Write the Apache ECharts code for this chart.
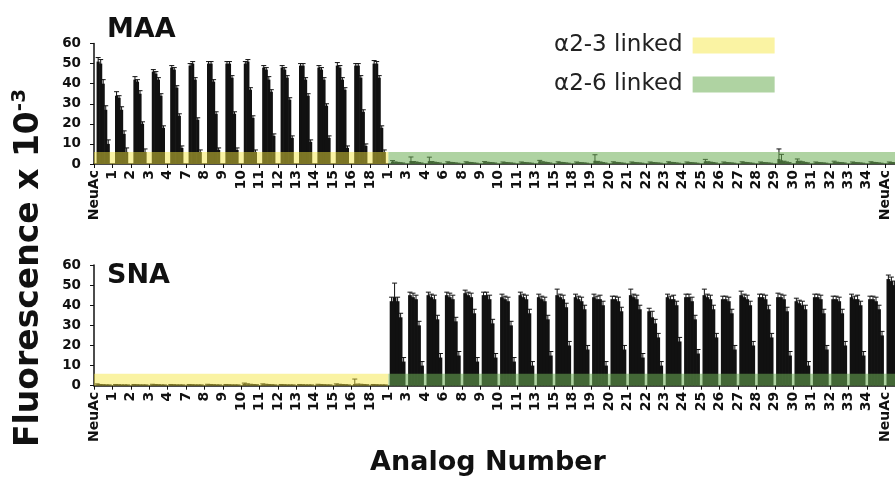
<!DOCTYPE html>
<html><head><meta charset="utf-8">
<script src="https://cdn.jsdelivr.net/npm/echarts@6/dist/echarts.min.js"></script>
<style>html,body{margin:0;padding:0;background:#fff}#c{width:895px;height:481px}</style>
</head><body><div id="c"></div>
<script>
// ---- categories ----
const leftLabels = ['NeuAc','1','2','3','4','7','8','9','10','11','12','13','14','15','16','18'];
const rightLabels = ['1','3','4','6','8','9','10','11','13','15','18','19','20','21','22','23','24','25','26','27','28','29','30','31','32','33','34','NeuAc'];
const yMin = 0, yMax = 60, yStep = 10;
const bandTop = 6;

// ---- MAA values (5 concentrations per analog) ----
const maa1 = [51,34,42,46,48,49,50,50,50,48,48,49,48,49,49,50, 1.2,1.5,1.4,0.8,0.8,0.9,0.7,0.7,1.3,0.8,0.7,1.6,0.8,0.7,0.7,0.8,0.7,1.3,0.7,0.8,0.7,2.5,1.5,0.7,0.9,0.7,0.8,0.7];
const maa2 = [50,33,41,45,47,50,50,50,51,47,47,49,47,48,49,50, 0.8,1.0,1.0,0.6,0.6,0.7,0.5,0.5,0.9,0.6,0.5,1.1,0.6,0.5,0.5,0.6,0.5,0.9,0.5,0.6,0.5,1.8,1.2,0.5,0.7,0.5,0.6,0.5];
const maa3 = [40,27,35,42,38,42,41,43,37,42,43,42,42,42,43,43, 0.6,0.8,0.7,0.5,0.5,0.5,0.4,0.4,0.7,0.5,0.4,0.8,0.5,0.4,0.4,0.5,0.4,0.7,0.4,0.5,0.4,1.2,0.9,0.4,0.5,0.4,0.5,0.4];
const maa4 = [27,15,20,34,24,22,25,25,23,36,32,34,29,37,26,18, 0.4,0.5,0.5,0.3,0.3,0.4,0.3,0.3,0.5,0.3,0.3,0.5,0.3,0.3,0.3,0.3,0.3,0.5,0.3,0.3,0.3,0.8,0.6,0.3,0.4,0.3,0.3,0.3];
const maa5 = [10,6,6,18,8,6,7,7,6,14,13,11,13,8,9,6, 0.3,0.3,0.3,0.2,0.2,0.3,0.2,0.2,0.3,0.2,0.2,0.3,0.2,0.2,0.2,0.2,0.2,0.3,0.2,0.2,0.2,0.5,0.4,0.2,0.3,0.2,0.2,0.2];
const maaE1 = [2,2,1.5,1,1,1,1,1,1,1,1,1,1,1.5,1,1.5, 0.5,2,2,0.3,0.3,0.3,0.3,0.3,0.5,0.3,0.3,3,0.3,0.3,0.3,0.3,0.3,1,0.3,0.3,0.3,5,1,0.3,0.5,0.3,0.3,0.3];
const maaE2 = [2,1,1,1,1,1,1,1,1,1,1,1,1,1,1,1, 0.2,0.2,0.2,0.2,0.2,0.2,0.2,0.2,0.2,0.2,0.2,0.2,0.2,0.2,0.2,0.2,0.2,0.2,0.2,0.2,0.2,3,0.2,0.2,0.2,0.2,0.2,0.2];
const maaE3 = [2,1.5,1.5,1,1,1,1,1,1,1.5,1,1,1,1,1,1, 0.2,0.2,0.2,0.2,0.2,0.2,0.2,0.2,0.2,0.2,0.2,0.2,0.2,0.2,0.2,0.2,0.2,0.2,0.2,0.2,0.2,0.2,0.2,0.2,0.2,0.2,0.2,0.2];
const maaE4 = [2,1.5,1,1,1,1,1,1,1,1,1,1,1,1,1,1, 0.2,0.2,0.2,0.2,0.2,0.2,0.2,0.2,0.2,0.2,0.2,0.2,0.2,0.2,0.2,0.2,0.2,0.2,0.2,0.2,0.2,0.2,0.2,0.2,0.2,0.2,0.2,0.2];
const maaE5 = [2,2,1.5,1,1,1,1,1,1,1,1,1,1,1,1,1, 0.2,0.2,0.2,0.2,0.2,0.2,0.2,0.2,0.2,0.2,0.2,0.2,0.2,0.2,0.2,0.2,0.2,0.2,0.2,0.2,0.2,0.2,0.2,0.2,0.2,0.2,0.2,0.2];

// ---- SNA values ----
const sna1 = [0.6,0.4,0.4,0.5,0.4,0.4,0.5,0.4,0.9,0.6,0.4,0.4,0.5,0.6,0.8,0.4, 42,45,45,45,46,45,44,45,44,45,44,44,43,45,37,44,44,45,43,45,44,44,42,44,43,44,43,53];
const sna2 = [0.4,0.3,0.3,0.4,0.3,0.3,0.4,0.3,0.7,0.5,0.3,0.3,0.4,0.5,0.6,0.3, 44,44,44,44,45,45,43,44,43,44,43,43,43,44,34,43,44,44,43,44,44,44,41,44,43,43,43,52];
const sna3 = [0.3,0.2,0.2,0.3,0.2,0.2,0.3,0.2,0.5,0.4,0.2,0.2,0.3,0.4,0.5,0.2, 42,43,43,43,44,43,42,43,42,43,42,43,42,43,31,43,42,43,42,43,43,43,40,43,42,43,42,50];
const sna4 = [0.2,0.2,0.2,0.2,0.2,0.2,0.2,0.2,0.4,0.3,0.2,0.2,0.2,0.3,0.4,0.2, 34,30,33,32,36,31,30,36,33,39,38,40,37,38,24,40,33,38,36,40,38,37,38,36,36,40,38,44];
const sna5 = [0.2,0.2,0.2,0.2,0.2,0.2,0.2,0.2,0.3,0.2,0.2,0.2,0.2,0.2,0.3,0.2, 12,10,14,15,12,14,12,10,15,20,18,10,18,14,10,22,16,24,18,20,24,15,10,18,20,15,25,30];
const snaE1 = [0.3,0.2,0.2,0.2,0.2,0.2,0.2,0.2,0.4,0.3,0.2,0.2,0.2,0.3,2.5,0.2, 2,1.5,1.5,1.5,1.5,1.5,1.5,1.5,1.5,3,1.5,1.5,1.5,3,1.5,1.5,1.5,3,1.5,2,1.5,2,1.5,1.5,1.5,1.5,1.5,2];
const snaE2 = [0.2,0.2,0.2,0.2,0.2,0.2,0.2,0.2,0.2,0.2,0.2,0.2,0.2,0.2,0.2,0.2, 7,2,1.5,2,1.5,1.5,1.5,1.5,1.5,1.5,1.5,1.5,1.5,1.5,3,1.5,1.5,1.5,1.5,1.5,1.5,1.5,1.5,1.5,1.5,1.5,1.5,2];
const snaE3 = [0.2,0.2,0.2,0.2,0.2,0.2,0.2,0.2,0.2,0.2,0.2,0.2,0.2,0.2,0.2,0.2, 2,2,2,2,2,2,2,2,2,2,2,2,2,2,2,2,2,2,2,2,2,2,2,2,2,2,2,2];
const snaE4 = [0.2,0.2,0.2,0.2,0.2,0.2,0.2,0.2,0.2,0.2,0.2,0.2,0.2,0.2,0.2,0.2, 2,2,2,2,2,2,2,2,2,2,2,2,2,2,2,2,2,2,2,2,2,2,2,2,2,2,2,2];
const snaE5 = [0.2,0.2,0.2,0.2,0.2,0.2,0.2,0.2,0.2,0.2,0.2,0.2,0.2,0.2,0.2,0.2, 2,2,2,2,2,2,2,2,2,2,2,2,2,2,2,2,2,2,2,2,2,2,2,2,2,2,2,2];

// ---- build ----
const labels = leftLabels.concat(rightLabels);
const N = labels.length;
const idxCats = labels.map((_, i) => 'c' + i);
const tickCats = labels.concat(['']);
const GAPS = [0.28, 0.14];   // category gap fraction per panel
const BGAP = -0.2;           // bar gap fraction (slight overlap, no seams)
const maaSeries = [maa1, maa2, maa3, maa4, maa5];
const maaErr = [maaE1, maaE2, maaE3, maaE4, maaE5];
const snaSeries = [sna1, sna2, sna3, sna4, sna5];
const snaErr = [snaE1, snaE2, snaE3, snaE4, snaE5];
const NS = maaSeries.length;
const FONT = "'DejaVu Sans', sans-serif";
const YELLOW = 'rgba(245,230,60,0.47)';
const GREEN = 'rgba(110,175,85,0.55)';

function makeErrRender(gap) {
  return function (params, api) {
    const cat = api.value(0), s = api.value(1), v = api.value(2), e = api.value(3);
    const bw = api.size([1, 0])[0];
    const total = bw * (1 - gap);
    const w = total / (NS + (NS - 1) * BGAP);
    const c = api.coord([cat, v]);
    const x = c[0] - total / 2 + s * w * (1 + BGAP) + w / 2;
    const yt = api.coord([cat, v + e])[1];
    const yb = api.coord([cat, Math.max(0, v - e)])[1];
    return { type: 'group', children: [
      { type: 'line', shape: { x1: x, y1: yt, x2: x, y2: yb }, style: { stroke: '#111', lineWidth: 1 } },
      { type: 'line', shape: { x1: x - 2.5, y1: yt, x2: x + 2.5, y2: yt }, style: { stroke: '#111', lineWidth: 1 } }
    ]};
  };
}
function bandRender(params, api) {
  const s = api.value(0), e = api.value(1), top = api.value(2);
  const bw = api.size([1, 0])[0];
  const p0 = api.coord([s, top]), p1 = api.coord([e, 0]);
  const x0 = p0[0] - bw / 2, x1 = p1[0] + bw / 2;
  return { type: 'rect', shape: { x: x0, y: p0[1], width: x1 - x0, height: p1[1] - p0[1] }, style: { fill: api.visual('color') } };
}

const grids = [
  { left: 94, top: 43.5, width: N * 18.4, height: 120.5 },
  { left: 94, top: 265, width: N * 18.4, height: 120.7 }
];
const xAxes = [], yAxes = [], series = [];
[0, 1].forEach(g => {
  const gap = GAPS[g];
  xAxes.push({ gridIndex: g, type: 'category', data: idxCats, position: 'bottom',
    axisLine: { show: true, lineStyle: { color: '#111', width: 1.5 } },
    axisTick: { show: false }, axisLabel: { show: false }, splitLine: { show: false } });
  xAxes.push({ gridIndex: g, type: 'category', data: tickCats, boundaryGap: false, position: 'bottom',
    axisLine: { show: false }, axisTick: { show: true, length: 4, interval: 0, lineStyle: { color: '#111' } },
    axisLabel: { interval: 0, rotate: 90, margin: 6, color: '#111', fontFamily: FONT, fontWeight: 'bold', fontSize: 14, hideOverlap: false },
    splitLine: { show: false } });
  yAxes.push({ gridIndex: g, type: 'value', min: yMin, max: yMax, interval: yStep,
    axisLine: { show: true, lineStyle: { color: '#111', width: 1.5 } },
    axisTick: { show: true, length: 4, lineStyle: { color: '#111' } },
    axisLabel: { color: '#111', fontFamily: FONT, fontWeight: 'bold', fontSize: 13.5, margin: 13 },
    splitLine: { show: false } });
  const vals = g === 0 ? maaSeries : snaSeries;
  const errs = g === 0 ? maaErr : snaErr;
  vals.forEach((arr, s) => {
    series.push({ type: 'bar', xAxisIndex: g * 2, yAxisIndex: g, data: arr,
      barCategoryGap: (gap * 100) + '%', barGap: (BGAP * 100) + '%',
      itemStyle: { color: '#111' },
      silent: true, z: 2 });
  });
  const errData = [];
  vals.forEach((arr, s) => arr.forEach((v, i) => errData.push([i, s, v, errs[s][i]])));
  series.push({ type: 'custom', xAxisIndex: g * 2, yAxisIndex: g, data: errData,
    encode: { x: 0, y: 2 }, renderItem: makeErrRender(gap), silent: true, z: 3 });
  series.push({ type: 'custom', name: 'α2-3 linked', xAxisIndex: g * 2, yAxisIndex: g,
    data: [[0, leftLabels.length - 1, bandTop]], encode: { x: [0, 1], y: 2 },
    itemStyle: { color: YELLOW }, renderItem: bandRender, silent: true, z: 5 });
  series.push({ type: 'custom', name: 'α2-6 linked', xAxisIndex: g * 2, yAxisIndex: g,
    data: [[leftLabels.length, N - 1, bandTop]], encode: { x: [0, 1], y: 2 },
    itemStyle: { color: GREEN }, renderItem: bandRender, silent: true, z: 5 });
});

const chart = echarts.init(document.getElementById('c'), null, { renderer: 'canvas' });
chart.setOption({
  animation: false,
  backgroundColor: '#fff',
  grid: grids.map(g => Object.assign({ containLabel: false, outerBoundsMode: 'none' }, g)),
  xAxis: xAxes,
  yAxis: yAxes,
  legend: { data: ['α2-3 linked', 'α2-6 linked'], orient: 'vertical', left: 549, top: 29,
    align: 'right', icon: 'rect', itemWidth: 82, itemHeight: 16, itemGap: 16,
    selectedMode: false,
    textStyle: { fontFamily: FONT, fontSize: 23, color: '#222', padding: [0, 5, 0, 0] } },
  graphic: [
    { type: 'text', left: 107, top: 16, style: { text: 'MAA', font: "bold 27px 'DejaVu Sans'", fill: '#111' } },
    { type: 'text', left: 107, top: 262, style: { text: 'SNA', font: "bold 27px 'DejaVu Sans'", fill: '#111' } },
    { type: 'text', x: 488, y: 463, style: { text: 'Analog Number', font: "bold 27px 'DejaVu Sans'", fill: '#111', align: 'center', verticalAlign: 'middle' } },
    { type: 'text', x: 29, y: 268, rotation: Math.PI / 2,
      style: { text: '{a|Fluorescence x 10}{s|-3}', align: 'center', verticalAlign: 'middle',
        rich: { a: { font: "bold 33px 'DejaVu Sans'", fill: '#111', lineHeight: 38 },
                s: { font: "bold 20px 'DejaVu Sans'", fill: '#111', verticalAlign: 'top', lineHeight: 38, padding: [0, 0, 16, 0] } } } }
  ],
  series: series
});
</script></body></html>
